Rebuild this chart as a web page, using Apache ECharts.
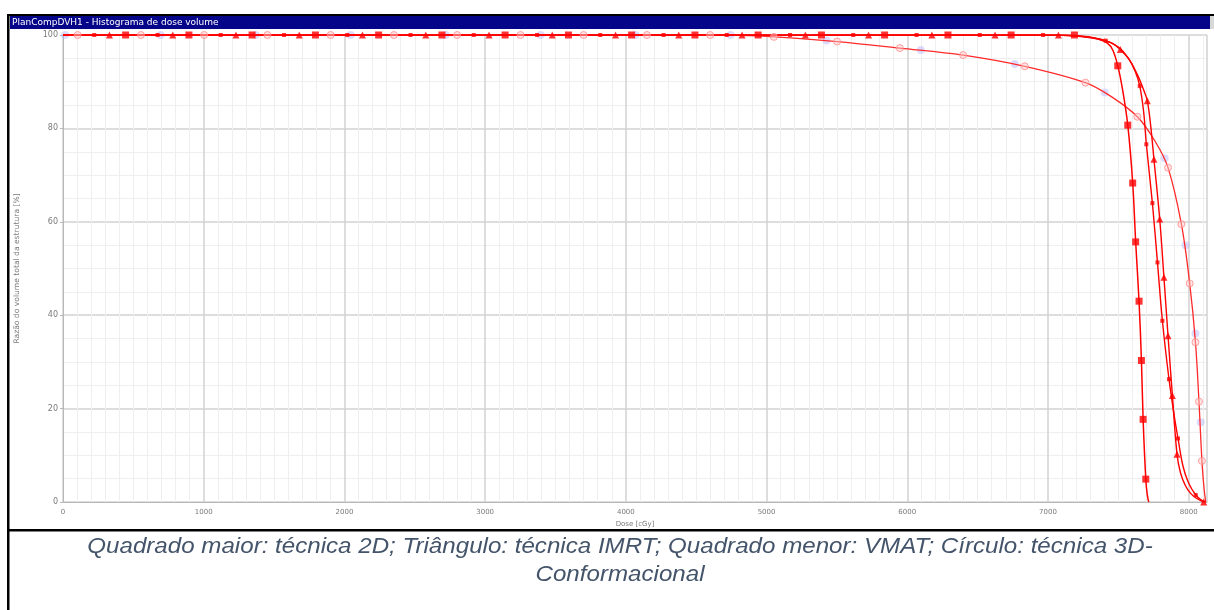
<!DOCTYPE html>
<html>
<head>
<meta charset="utf-8">
<title>PlanCompDVH1 - Histograma de dose volume</title>
<script src="https://cdn.jsdelivr.net/npm/echarts@6/dist/echarts.min.js"></script>
<style>
  html, body { margin: 0; padding: 0; background: #ffffff; }
  #chart { width: 1214px; height: 610px; }
</style>
</head>
<body>
<div id="chart"></div>
<script>
// Dose-volume histogram: dose in cGy, volume in % of structure.

// 2D technique (large squares)
const curve2D = [[0,100],[6900,100],[7150,99.9],[7280,99.6],[7360,99.1],[7420,98.3],[7460,96.8],[7496,93.4],[7530,88.3],[7567,80.7],[7602,68.3],[7623,55.7],[7647,43],[7664,30.3],[7676,17.7],[7695,4.9],[7706,1.4],[7716,0]];
const marks2D = [[445,100],[895,100],[1344,100],[1794,100],[2243,100],[2693,100],[3142,100],[3592,100],[4041,100],[4491,100],[4940,100],[5390,100],[5839,100],[6289,100],[6738,100],[7188,100],[7496,93.4],[7567,80.7],[7602,68.3],[7623,55.7],[7647,43],[7664,30.3],[7676,17.7],[7695,4.9]];

// IMRT (triangles)
const curveIMRT = [[0,100],[7000,100],[7200,99.8],[7350,99.2],[7450,98.3],[7514,96.9],[7580,94.6],[7640,91.2],[7680,88.2],[7706,85.9],[7730,80.5],[7753,73.4],[7794,60.6],[7824,48.1],[7853,35.6],[7884,22.8],[7917,10.2],[7942,6.2],[7975,3.6],[8015,1.8],[8060,0.7],[8107,0]];
const marksIMRT = [[330,100],[780,100],[1229,100],[1679,100],[2128,100],[2578,100],[3028,100],[3477,100],[3927,100],[4376,100],[4826,100],[5276,100],[5725,100],[6175,100],[6624,100],[7074,100],[7514,96.9],[7706,85.9],[7753,73.4],[7794,60.6],[7824,48.1],[7853,35.6],[7884,22.8],[7917,10.2],[8107,0]];

// VMAT (small squares)
const curveVMAT = [[0,100],[7000,100],[7250,99.7],[7410,98.8],[7500,97.4],[7570,95.1],[7620,92.2],[7652,89.1],[7680,83.5],[7699,76.6],[7742,64],[7778,51.3],[7813,38.8],[7860,26.3],[7898,18.3],[7924,13.6],[7960,7.6],[8000,4],[8050,1.5],[8090,0.4],[8121,0]];
const marksVMAT = [[222,100],[672,100],[1121,100],[1571,100],[2020,100],[2470,100],[2919,100],[3369,100],[3818,100],[4268,100],[4717,100],[5167,100],[5616,100],[6066,100],[6515,100],[6965,100],[7410,98.8],[7652,89.1],[7699,76.6],[7742,64],[7778,51.3],[7813,38.8],[7860,26.3],[7924,13.6],[8050,1.5]];

// 3D conformal (circles)
const curve3D = [[0,100],[4500,100],[4800,99.9],[5052,99.6],[5501,98.6],[5947,97.2],[6397,95.7],[6835,93.3],[7266,89.8],[7450,86.8],[7635,82.5],[7760,77.3],[7853,71.6],[7948,59.5],[8007,46.8],[8048,34.2],[8073,21.5],[8094,8.8],[8110,2.6],[8121,0]];
const marks3D = [[104,100],[554,100],[1003,100],[1453,100],[1902,100],[2352,100],[2801,100],[3251,100],[3700,100],[4150,100],[4599,100],[5052,99.6],[5501,98.6],[5947,97.2],[6397,95.7],[6835,93.3],[7266,89.8],[7635,82.5],[7853,71.6],[7948,59.5],[8007,46.8],[8048,34.2],[8073,21.5],[8094,8.8]];
// secondary markers sitting on the 3D curve
const marks3DAlt = [[15,100],[694,100],[1369,100],[2044,100],[2719,100],[3394,100],[4069,100],[4744,100],[5426,98.8],[6096,96.8],[6764,93.8],[7403,87.7],[7829,73.6],[7977,55],[8048,36.1],[8085,17.1]];

// Axis ticks
const doseTicks = [0, 1000, 2000, 3000, 4000, 5000, 6000, 7000, 8000];
const volumeTicks = [0, 20, 40, 60, 80, 100];

const windowTitle = 'PlanCompDVH1 - Histograma de dose volume';
const xName = 'Dose [cGy]';
const yName = 'Razão do volume total da estrutura [%]';
const captionLine1 = 'Quadrado maior: técnica 2D; Triângulo: técnica IMRT; Quadrado menor: VMAT; Círculo: técnica 3D-';
const captionLine2 = 'Conformacional';

const RED = '#ff0000';

function curveSeries(name, data, width, color) {
  return {
    name: name, type: 'line', data: data, smooth: 0.35, showSymbol: false,
    lineStyle: { color: color, width: width }, z: 3, silent: true, animation: false
  };
}
function markSeries(name, data, symbol, size, fill, border, z) {
  return {
    name: name, type: 'scatter', data: data, symbol: symbol, symbolSize: size,
    itemStyle: { color: fill, borderColor: border || fill, borderWidth: border ? 1 : 0 },
    z: z, silent: true, animation: false
  };
}

const chart = echarts.init(document.getElementById('chart'), null, { renderer: 'canvas' });

const captionFont = 'italic 22px "Liberation Sans"';

chart.setOption({
  animation: false,
  backgroundColor: '#ffffff',
  grid: { left: 63, right: 7, top: 35, bottom: 108, containLabel: false, outerBoundsMode: 'none' },
  xAxis: {
    type: 'value', min: doseTicks[0], max: 8130, interval: 1000,
    name: xName, nameLocation: 'middle', nameGap: 15,
    nameTextStyle: { fontFamily: 'DejaVu Sans', fontSize: 7, color: '#7a7a7a' },
    axisLine: { show: true, lineStyle: { color: '#b8b8b8', width: 1 } },
    axisTick: { show: false },
    axisLabel: {
      fontFamily: 'DejaVu Sans', fontSize: 7, color: '#7a7a7a', margin: 7, showMaxLabel: false,
      formatter: v => doseTicks.indexOf(v) >= 0 ? String(v) : ''
    },
    splitLine: { show: true, lineStyle: { color: '#d2d2d2', width: 1.5 } },
    minorTick: { show: false, splitNumber: 10 },
    minorSplitLine: { show: true, lineStyle: { color: '#efefef', width: 1 } }
  },
  yAxis: {
    type: 'value', min: volumeTicks[0], max: volumeTicks[volumeTicks.length - 1], interval: 20,
    name: yName, nameLocation: 'middle', nameGap: 42,
    nameTextStyle: { fontFamily: 'DejaVu Sans', fontSize: 7.6, color: '#7a7a7a' },
    axisLine: { show: true, lineStyle: { color: '#b8b8b8', width: 1 } },
    axisTick: { show: true, length: 3, lineStyle: { color: '#b8b8b8' } },
    axisLabel: { fontFamily: 'DejaVu Sans', fontSize: 8, color: '#7a7a7a', margin: 5 },
    splitLine: { show: true, lineStyle: { color: '#d2d2d2', width: 1.5 } },
    minorTick: { show: false, splitNumber: 4 },
    minorSplitLine: { show: true, lineStyle: { color: '#efefef', width: 1 } }
  },
  series: [
    markSeries('3D (marcador secundário)', marks3DAlt, 'circle', 8, 'rgba(175,175,255,0.55)', null, 2),
    curveSeries('3D-Conformacional', curve3D, 1.3, '#ff2a2a'),
    curveSeries('VMAT', curveVMAT, 1.4, RED),
    curveSeries('IMRT', curveIMRT, 1.4, RED),
    curveSeries('2D', curve2D, 1.5, RED),
    markSeries('3D-Conformacional', marks3D, 'circle', 7, 'rgba(255,200,200,0.6)', '#ff8c8c', 5),
    markSeries('VMAT', marksVMAT, 'rect', 4, RED, null, 6),
    markSeries('IMRT', marksIMRT, 'triangle', 7, RED, null, 6),
    markSeries('2D', marks2D, 'rect', 7, RED, null, 6)
  ],
  graphic: [
    // window frame: top edge, title bar, left edge, divider above the caption
    { type: 'rect', shape: { x: 8, y: 14, width: 1206, height: 2 }, style: { fill: '#000000' }, z: 100, silent: true },
    { type: 'rect', shape: { x: 10, y: 16, width: 1200, height: 13 }, style: { fill: '#05058a' }, z: 100, silent: true },
    { type: 'rect', shape: { x: 1210, y: 16, width: 4, height: 13 }, style: { fill: '#d8d8d8' }, z: 100, silent: true },
    { type: 'text', x: 12, y: 22.5, style: { text: windowTitle, fill: '#ffffff', font: '9px "DejaVu Sans"', textVerticalAlign: 'middle' }, z: 101, silent: true },
    { type: 'rect', shape: { x: 7, y: 14, width: 2.5, height: 596 }, style: { fill: '#000000' }, z: 100, silent: true },
    { type: 'rect', shape: { x: 7, y: 529, width: 1207, height: 2.5 }, style: { fill: '#000000' }, z: 100, silent: true },
    // caption
    { type: 'text', x: 620, y: 547, scaleX: 1.097, style: { text: captionLine1, fill: '#44546a', font: captionFont, textAlign: 'center', textVerticalAlign: 'middle' }, z: 101, silent: true },
    { type: 'text', x: 620, y: 575, scaleX: 1.097, style: { text: captionLine2, fill: '#44546a', font: captionFont, textAlign: 'center', textVerticalAlign: 'middle' }, z: 101, silent: true }
  ]
});
</script>
</body>
</html>
